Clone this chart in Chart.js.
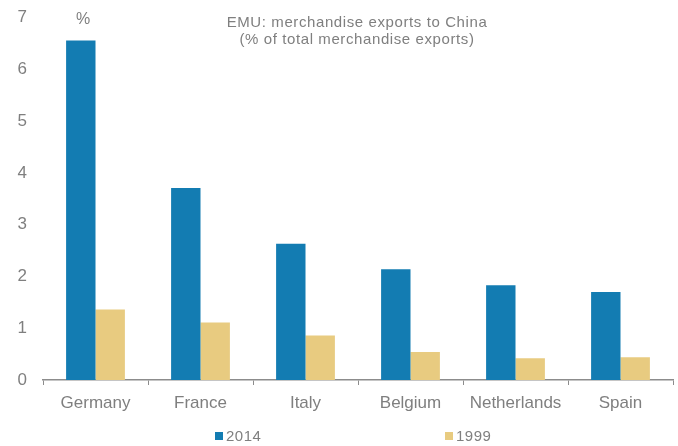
<!DOCTYPE html>
<html>
<head>
<meta charset="utf-8">
<script src="https://cdn.jsdelivr.net/npm/chart.js@4"></script>
<style>
  html, body { margin: 0; padding: 0; background: #fff; }
  #wrap { width: 678px; height: 446px; }
</style>
</head>
<body>
<div id="wrap"><canvas id="myChart" width="678" height="446"></canvas></div>
<script>
const countries = ["Germany", "France", "Italy", "Belgium", "Netherlands", "Spain"];
const exports2014 = [6.56, 3.71, 2.63, 2.14, 1.83, 1.70];
const exports1999 = [1.36, 1.11, 0.86, 0.54, 0.42, 0.44];
const yTicks = [0, 1, 2, 3, 4, 5, 6, 7];
const titleLines = ["EMU: merchandise exports to China", "(% of total merchandise exports)"];

const grey = "#7f7f7f";
const font = "'Liberation Sans', Arial, sans-serif";

// title, unit label and the legend at the bottom
const extras = {
  id: "extras",
  afterDraw(chart) {
    const ctx = chart.ctx;
    ctx.save();
    ctx.fillStyle = grey;
    ctx.textBaseline = "middle";
    ctx.textAlign = "center";
    ctx.font = "15px " + font;
    ctx.letterSpacing = "0.6px";
    ctx.fillText(titleLines[0], 357, 23);
    ctx.fillText(titleLines[1], 357, 40);
    ctx.letterSpacing = "0px";
    ctx.font = "16px " + font;
    ctx.fillText("%", 83, 20);

    ctx.textAlign = "left";
    ctx.font = "15px " + font;
    ctx.letterSpacing = "0.5px";
    const legendX = [215, 445];
    chart.data.datasets.forEach((ds, i) => {
      ctx.fillStyle = ds.backgroundColor;
      ctx.fillRect(legendX[i], 432, 8, 8);
      ctx.fillStyle = grey;
      ctx.fillText(ds.label, legendX[i] + 11, 437);
    });
    ctx.restore();
  }
};

const ctx = document.getElementById("myChart").getContext("2d");
const myChart = new Chart(ctx, {
  type: "bar",
  data: {
    labels: countries,
    datasets: [
      {
        label: "2014",
        data: exports2014,
        backgroundColor: "#137cb2",
        categoryPercentage: 0.56,
        barPercentage: 1.0,
      },
      {
        label: "1999",
        data: exports1999,
        backgroundColor: "#e8cb80",
        categoryPercentage: 0.56,
        barPercentage: 1.0,
      },
    ],
  },
  options: {
    responsive: false,
    animation: false,
    layout: { padding: { top: 17.6, right: 5, bottom: 30, left: 0 } },
    plugins: {
      legend: { display: false },
      tooltip: { enabled: false },
    },
    scales: {
      x: {
        grid: {
          drawOnChartArea: false,
          drawTicks: true,
          tickLength: 5,
          tickColor: "#8c8c8c",
          tickWidth: 1,
        },
        border: { color: "#8c8c8c", width: 1.5 },
        ticks: { color: grey, font: { family: font, size: 17 }, padding: 8 },
        afterFit(scale) { scale.height = 36; },
      },
      y: {
        min: 0,
        max: 7,
        grid: { display: false, drawTicks: false },
        border: { display: false },
        afterBuildTicks(scale) { scale.ticks = yTicks.map(v => ({ value: v })); },
        ticks: { color: grey, font: { family: font, size: 17 }, padding: 16 },
        // fixed axis width; the tick padding should not push the plot down
        afterFit(scale) {
          scale.width = 43;
          scale.paddingTop = 0;
        },
      },
    },
  },
  plugins: [extras],
});
</script>
</body>
</html>
